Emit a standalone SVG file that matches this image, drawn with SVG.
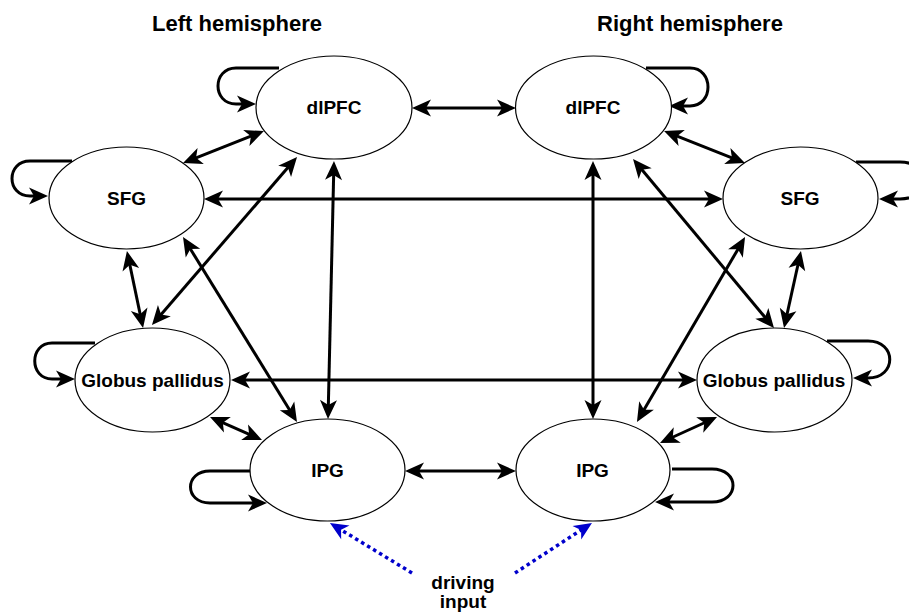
<svg xmlns="http://www.w3.org/2000/svg" width="909" height="614" viewBox="0 0 909 614">
<style>
.node ellipse{fill:#fff;stroke:#000;stroke-width:1.2}
.lbl{font-family:"Liberation Sans",Arial,Helvetica,sans-serif;font-weight:bold;font-size:19px;fill:#000;text-anchor:middle}
.title{font-family:"Liberation Sans",Arial,Helvetica,sans-serif;font-weight:bold;font-size:22px;fill:#000;text-anchor:middle}
.c{fill:none;stroke:#000;stroke-width:3}
.bi{marker-start:url(#ah);marker-end:url(#ah)}
.one{marker-end:url(#ah)}
.drv{fill:none;stroke:#0000CC;stroke-width:3.5;stroke-dasharray:3.5 3.5;marker-end:url(#bh)}
</style>
<defs>
<marker id="ah" viewBox="-20 -10 21 20" refX="-12" refY="0" markerWidth="21" markerHeight="20" markerUnits="userSpaceOnUse" orient="auto-start-reverse">
<path d="M0,0 L-19,-8.5 L-14,0 L-19,8.5 Z" fill="#000"/>
</marker>
<marker id="bh" viewBox="-20 -10 21 20" refX="-12" refY="0" markerWidth="21" markerHeight="20" markerUnits="userSpaceOnUse" orient="auto">
<path d="M0,0 L-18,-8 L-13,0 L-18,8 Z" fill="#0000CC"/>
</marker>
</defs>
<rect width="909" height="614" fill="#fff"/>
<text class="title" x="237" y="31">Left hemisphere</text>
<text class="title" x="690" y="31">Right hemisphere</text>
<g id="connectors">
<line class="c bi" x1="424" y1="108" x2="504" y2="108"/>
<line class="c bi" x1="417" y1="471" x2="504" y2="471"/>
<line class="c bi" x1="216" y1="199" x2="711" y2="199"/>
<line class="c bi" x1="243" y1="380" x2="685" y2="380"/>
<line class="c bi" x1="252.8" y1="135.4" x2="194.2" y2="158.6"/>
<line class="c bi" x1="675.2" y1="135.4" x2="733.8" y2="158.6"/>
<line class="c bi" x1="289.2" y1="166.1" x2="159.8" y2="315.9"/>
<line class="c bi" x1="640.7" y1="168.2" x2="766.3" y2="318.8"/>
<line class="c bi" x1="333.7" y1="173" x2="328.3" y2="407"/>
<line class="c bi" x1="593" y1="173" x2="593" y2="407"/>
<line class="c bi" x1="189.3" y1="247.2" x2="290.7" y2="411.8"/>
<line class="c bi" x1="739" y1="247.4" x2="643" y2="411.6"/>
<line class="c bi" x1="129.4" y1="262.8" x2="140.6" y2="316.2"/>
<line class="c bi" x1="798.4" y1="262.7" x2="786.6" y2="316.3"/>
<line class="c bi" x1="221" y1="421.9" x2="251" y2="435.1"/>
<line class="c bi" x1="706.1" y1="422" x2="670.9" y2="438"/>
<path class="c one" d="M279,68 L236,68 C212,68 212,104 236,104 L244,104"/>
<path class="c one" d="M72,161 L30,161 C6,161 6,196 30,196 L36,196"/>
<path class="c one" d="M95,343 L52,343 C29,343 29,379 52,379 L63,379"/>
<path class="c one" d="M250,471 L210,471 C184,471 184,503 210,503 L255,503"/>
<path class="c one" d="M646,68 L690,68 C714,68 714,106 690,106 L681,106"/>
<path class="c one" d="M856,162 L900,162 C932,162 932,199 900,199 L891,199"/>
<path class="c one" d="M827,341 L868,341 C897,341 897,378 868,378 L865,378"/>
<path class="c one" d="M672,469 L712,469 C740,469 740,502 712,502 L667,502"/>
<line class="drv" x1="412" y1="573" x2="340.2" y2="529.3"/>
<line class="drv" x1="515" y1="573" x2="581.9" y2="529.5"/>
</g>
<g id="dlpfc-left" class="node"><ellipse cx="334" cy="107.5" rx="78" ry="51.5"/><text class="lbl" x="334" y="114">dlPFC</text></g>
<g id="dlpfc-right" class="node"><ellipse cx="593.5" cy="107.5" rx="78" ry="51.5"/><text class="lbl" x="593" y="114">dlPFC</text></g>
<g id="sfg-left" class="node"><ellipse cx="126.5" cy="198" rx="77.5" ry="51"/><text class="lbl" x="126.5" y="204.5">SFG</text></g>
<g id="sfg-right" class="node"><ellipse cx="800.5" cy="198" rx="77.5" ry="51"/><text class="lbl" x="800" y="204.5">SFG</text></g>
<g id="gp-left" class="node"><ellipse cx="152.5" cy="380" rx="77.5" ry="52"/><text class="lbl" x="152.5" y="386.5">Globus pallidus</text></g>
<g id="gp-right" class="node"><ellipse cx="774.5" cy="380" rx="77.5" ry="52"/><text class="lbl" x="774" y="386.5">Globus pallidus</text></g>
<g id="ipg-left" class="node"><ellipse cx="327.5" cy="470" rx="77.5" ry="51"/><text class="lbl" x="327.5" y="477">IPG</text></g>
<g id="ipg-right" class="node"><ellipse cx="593" cy="470" rx="77" ry="51"/><text class="lbl" x="592.5" y="477">IPG</text></g>
<g id="driving-input">
<text class="lbl" x="463" y="589">driving</text>
<text class="lbl" x="463" y="608">input</text>
</g>
</svg>
